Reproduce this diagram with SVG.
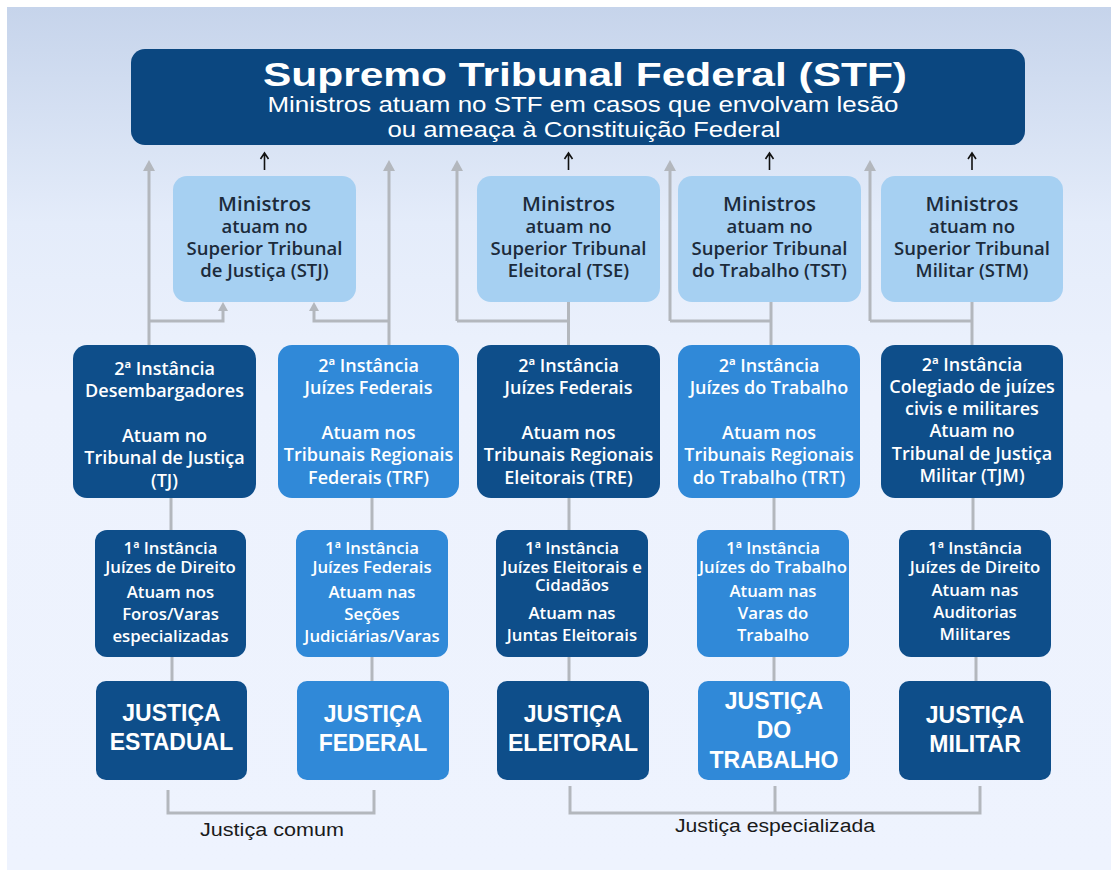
<svg xmlns="http://www.w3.org/2000/svg" width="1116" height="875" viewBox="0 0 1116 875">
<defs>
<linearGradient id="bg" x1="0" y1="0" x2="0" y2="1">
<stop offset="0" stop-color="#c6d4eb"/>
<stop offset="0.25" stop-color="#e4ecfa"/>
<stop offset="0.45" stop-color="#edf2fd"/>
<stop offset="1" stop-color="#eef3fe"/>
</linearGradient>
<path id="gh" d="M-6,11 L0,0 L6,11 Z" fill="#b3b7bd"/>
<path id="gh2" d="M-5,9 L0,0 L5,9 Z" fill="#b3b7bd"/>
<style>
.bgc{fill:url(#bg)}
.stf{fill:#0b4780}
.min{fill:#a6d0f2}
.dk{fill:#0e4e8a}
.md{fill:#3089d8}
.ln{stroke:#b3b7bd;stroke-width:3;fill:none}
.ba{stroke:#111;stroke-width:1.6;fill:none}
.t{font-family:"Open Sans","DejaVu Sans",sans-serif;font-weight:600;text-anchor:middle}
.tm{fill:#1c2b3b;font-size:18.5px}
.tm1{fill:#1c2b3b;font-size:20.5px}
.tw{fill:#ffffff;font-size:18px}
.tw1{fill:#ffffff;font-size:16.8px}
.tj{font-family:"Liberation Sans",Arial,sans-serif;font-weight:700;fill:#fff;font-size:23px;text-anchor:middle}
.tl{font-family:"Liberation Sans",Arial,sans-serif;fill:#1a1a1a;font-size:18px;text-anchor:middle}
.th{font-family:"Liberation Sans",Arial,sans-serif;fill:#fff;text-anchor:middle}
</style>
</defs>
<rect width="1116" height="875" fill="#ffffff"/>
<rect x="7" y="7" width="1104" height="863" class="bgc"/>

<g id="connectors">
<g class="ba">
<path d="M264.5,170 V154 M260.5,159 L264.5,153 L268.5,159"/>
<path d="M568.5,170 V154 M564.5,159 L568.5,153 L572.5,159"/>
<path d="M769.5,170 V154 M765.5,159 L769.5,153 L773.5,159"/>
<path d="M972,170 V154 M968,159 L972,153 L976,159"/>
</g>
<path class="ln" d="M149,345 V168"/>
<path class="ln" d="M389,345 V168"/>
<path class="ln" d="M457,321 V168"/>
<path class="ln" d="M670,321 V168"/>
<path class="ln" d="M870,321 V168"/>
<use href="#gh" x="149" y="160"/>
<use href="#gh" x="389" y="160"/>
<use href="#gh" x="457" y="160"/>
<use href="#gh" x="670" y="160"/>
<use href="#gh" x="870" y="160"/>
<path class="ln" d="M149,321 H223 V308"/>
<path class="ln" d="M389,321 H314 V308"/>
<use href="#gh2" x="223" y="302"/>
<use href="#gh2" x="314" y="302"/>
<path class="ln" d="M568.5,302 V345 M568.5,321 H457"/>
<path class="ln" d="M771,302 V345 M771,321 H670"/>
<path class="ln" d="M972,302 V345 M972,321 H870"/>
<path class="ln" d="M171,498 V530 M372,498 V530 M569,498 V530 M774,498 V530 M973,498 V530"/>
<path class="ln" d="M172,657 V681 M372,657 V681 M569,657 V681 M774,657 V681 M976,657 V681"/>
<path class="ln" d="M168,790 V813 H374 V790"/>
<path class="ln" d="M570,786 V813 H980 V786 M775,786 V813"/>
</g>

<g id="stf">
<rect class="stf" x="131" y="49" width="894" height="96" rx="14"/>
<text class="th" x="585" y="86" font-size="34" font-weight="700" textLength="644" lengthAdjust="spacingAndGlyphs">Supremo Tribunal Federal (STF)</text>
<text class="th" x="583" y="112" font-size="22" textLength="631" lengthAdjust="spacingAndGlyphs">Ministros atuam no STF em casos  que envolvam lesão</text>
<text class="th" x="584" y="137" font-size="22" textLength="393" lengthAdjust="spacingAndGlyphs">ou ameaça à Constituição Federal</text>
</g>

<g id="stj">
<rect class="min" x="173" y="176" width="183" height="126" rx="14"/>
<text class="t tm1" x="264.5" y="211">Ministros</text>
<text class="t tm" x="264.5" y="233">atuam no</text>
<text class="t tm" x="264.5" y="255">Superior Tribunal</text>
<text class="t tm" x="264.5" y="277">de Justiça (STJ)</text>
</g>
<g id="tse">
<rect class="min" x="477" y="176" width="183" height="126" rx="14"/>
<text class="t tm1" x="568.5" y="211">Ministros</text>
<text class="t tm" x="568.5" y="233">atuam no</text>
<text class="t tm" x="568.5" y="255">Superior Tribunal</text>
<text class="t tm" x="568.5" y="277">Eleitoral (TSE)</text>
</g>
<g id="tst">
<rect class="min" x="678" y="176" width="183" height="126" rx="14"/>
<text class="t tm1" x="769.5" y="211">Ministros</text>
<text class="t tm" x="769.5" y="233">atuam no</text>
<text class="t tm" x="769.5" y="255">Superior Tribunal</text>
<text class="t tm" x="769.5" y="277">do Trabalho (TST)</text>
</g>
<g id="stm">
<rect class="min" x="881" y="176" width="182" height="126" rx="14"/>
<text class="t tm1" x="972" y="211">Ministros</text>
<text class="t tm" x="972" y="233">atuam no</text>
<text class="t tm" x="972" y="255">Superior Tribunal</text>
<text class="t tm" x="972" y="277">Militar (STM)</text>
</g>

<g id="seg-estadual">
<rect class="dk" x="73" y="345" width="183" height="153" rx="14"/>
<text class="t tw" x="164.5" y="375">2ª Instância</text>
<text class="t tw" x="164.5" y="397">Desembargadores</text>
<text class="t tw" x="164.5" y="442">Atuam no</text>
<text class="t tw" x="164.5" y="464">Tribunal de Justiça</text>
<text class="t tw" x="164.5" y="487">(TJ)</text>
</g>
<g id="seg-federal">
<rect class="md" x="278" y="345" width="181" height="153" rx="14"/>
<text class="t tw" x="368.5" y="372">2ª Instância</text>
<text class="t tw" x="368.5" y="394">Juízes Federais</text>
<text class="t tw" x="368.5" y="439">Atuam nos</text>
<text class="t tw" x="368.5" y="461">Tribunais Regionais</text>
<text class="t tw" x="368.5" y="484">Federais (TRF)</text>
</g>
<g id="seg-eleitoral">
<rect class="dk" x="477" y="345" width="183" height="153" rx="14"/>
<text class="t tw" x="568.5" y="372">2ª Instância</text>
<text class="t tw" x="568.5" y="394">Juízes Federais</text>
<text class="t tw" x="568.5" y="439">Atuam nos</text>
<text class="t tw" x="568.5" y="461">Tribunais Regionais</text>
<text class="t tw" x="568.5" y="484">Eleitorais (TRE)</text>
</g>
<g id="seg-trabalho">
<rect class="md" x="678" y="345" width="182" height="153" rx="14"/>
<text class="t tw" x="769" y="372">2ª Instância</text>
<text class="t tw" x="769" y="394">Juízes do Trabalho</text>
<text class="t tw" x="769" y="439">Atuam nos</text>
<text class="t tw" x="769" y="461">Tribunais Regionais</text>
<text class="t tw" x="769" y="484">do Trabalho (TRT)</text>
</g>
<g id="seg-militar">
<rect class="dk" x="881" y="345" width="182" height="153" rx="14"/>
<text class="t tw" x="972" y="371">2ª Instância</text>
<text class="t tw" x="972" y="393">Colegiado de juízes</text>
<text class="t tw" x="972" y="415">civis e militares</text>
<text class="t tw" x="972" y="437">Atuam no</text>
<text class="t tw" x="972" y="460">Tribunal de Justiça</text>
<text class="t tw" x="972" y="482">Militar (TJM)</text>
</g>

<g id="pri-estadual">
<rect class="dk" x="95" y="530" width="151" height="127" rx="12"/>
<text class="t tw1" x="170.5" y="554">1ª Instância</text>
<text class="t tw1" x="170.5" y="573">Juízes de Direito</text>
<text class="t tw1" x="170.5" y="598">Atuam nos</text>
<text class="t tw1" x="170.5" y="620">Foros/Varas</text>
<text class="t tw1" x="170.5" y="642">especializadas</text>
</g>
<g id="pri-federal">
<rect class="md" x="296" y="530" width="152" height="127" rx="12"/>
<text class="t tw1" x="372" y="554">1ª Instância</text>
<text class="t tw1" x="372" y="573">Juízes Federais</text>
<text class="t tw1" x="372" y="598">Atuam nas</text>
<text class="t tw1" x="372" y="620">Seções</text>
<text class="t tw1" x="372" y="642">Judiciárias/Varas</text>
</g>
<g id="pri-eleitoral">
<rect class="dk" x="496" y="530" width="152" height="127" rx="12"/>
<text class="t tw1" x="572" y="554">1ª Instância</text>
<text class="t tw1" x="572" y="573">Juízes Eleitorais e</text>
<text class="t tw1" x="572" y="591">Cidadãos</text>
<text class="t tw1" x="572" y="619">Atuam nas</text>
<text class="t tw1" x="572" y="641">Juntas Eleitorais</text>
</g>
<g id="pri-trabalho">
<rect class="md" x="697" y="530" width="152" height="127" rx="12"/>
<text class="t tw1" x="773" y="554">1ª Instância</text>
<text class="t tw1" x="773" y="573">Juízes do Trabalho</text>
<text class="t tw1" x="773" y="597">Atuam nas</text>
<text class="t tw1" x="773" y="619">Varas do</text>
<text class="t tw1" x="773" y="641">Trabalho</text>
</g>
<g id="pri-militar">
<rect class="dk" x="899" y="530" width="152" height="127" rx="12"/>
<text class="t tw1" x="975" y="554">1ª Instância</text>
<text class="t tw1" x="975" y="573">Juízes de Direito</text>
<text class="t tw1" x="975" y="596">Atuam nas</text>
<text class="t tw1" x="975" y="618">Auditorias</text>
<text class="t tw1" x="975" y="640">Militares</text>
</g>

<g id="justica-estadual">
<rect class="dk" x="96" y="681" width="151" height="99" rx="10"/>
<text class="tj" x="171.5" y="721">JUSTIÇA</text>
<text class="tj" x="171.5" y="750">ESTADUAL</text>
</g>
<g id="justica-federal">
<rect class="md" x="297" y="681" width="152" height="99" rx="10"/>
<text class="tj" x="373" y="722">JUSTIÇA</text>
<text class="tj" x="373" y="751">FEDERAL</text>
</g>
<g id="justica-eleitoral">
<rect class="dk" x="497" y="681" width="152" height="99" rx="10"/>
<text class="tj" x="573" y="722">JUSTIÇA</text>
<text class="tj" x="573" y="751">ELEITORAL</text>
</g>
<g id="justica-trabalho">
<rect class="md" x="698" y="681" width="152" height="99" rx="10"/>
<text class="tj" x="774" y="709">JUSTIÇA</text>
<text class="tj" x="774" y="738">DO</text>
<text class="tj" x="774" y="768">TRABALHO</text>
</g>
<g id="justica-militar">
<rect class="dk" x="899" y="681" width="152" height="99" rx="10"/>
<text class="tj" x="975" y="723">JUSTIÇA</text>
<text class="tj" x="975" y="752">MILITAR</text>
</g>

<g id="labels">
<text class="tl" x="272" y="836" textLength="144" lengthAdjust="spacingAndGlyphs">Justiça comum</text>
<text class="tl" x="775" y="832" textLength="200" lengthAdjust="spacingAndGlyphs">Justiça especializada</text>
</g>
</svg>
